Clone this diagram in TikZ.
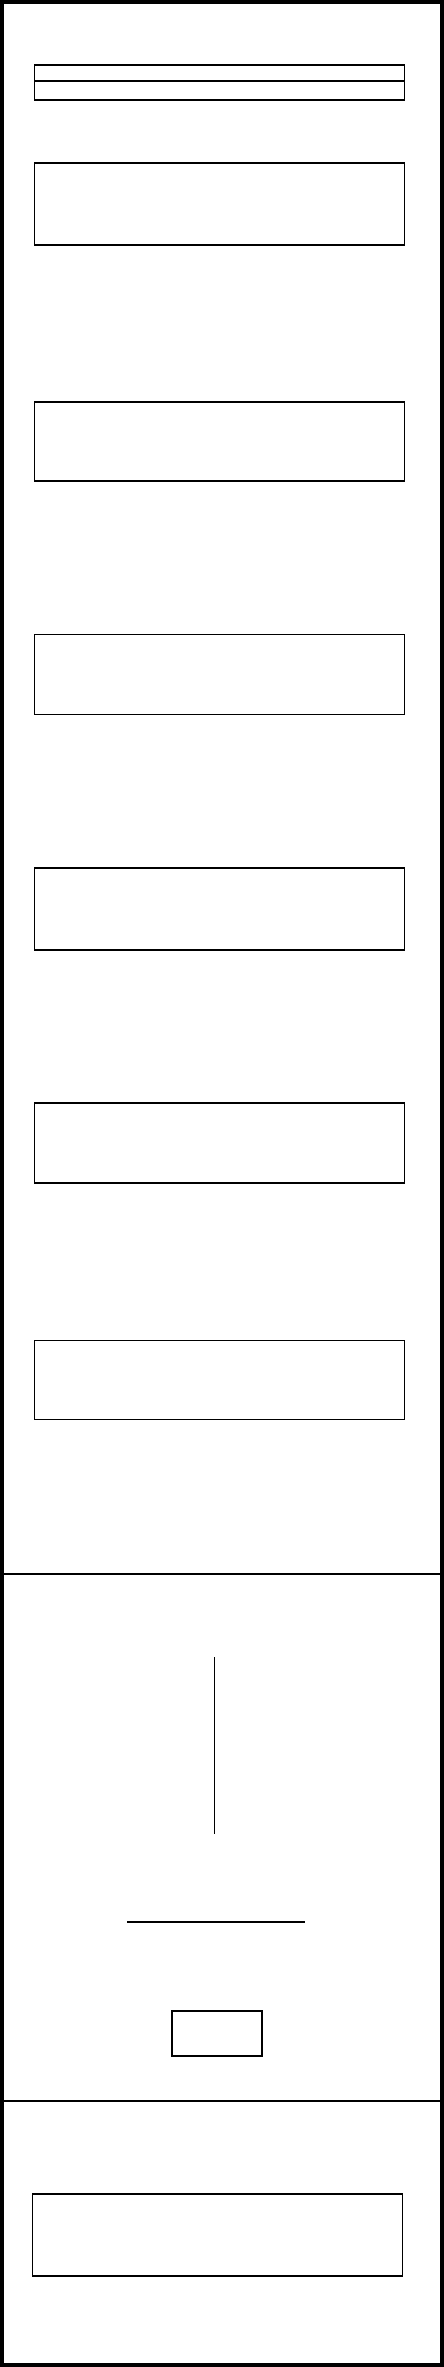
\documentclass[tikz,border=0pt]{standalone}
\begin{document}
\begin{tikzpicture}[x=1pt,y=-1pt,
  box/.style={draw=black,line width=1.3pt,minimum width=370pt,inner sep=0pt,outer sep=0pt},
  frame/.style={draw=black,line width=4pt},
  divider/.style={draw=black,line width=1.5pt},
  stroke/.style={draw=black,line width=1.3pt}]
\useasboundingbox (0,0) rectangle (444,2367);
\fill[white] (0,0) rectangle (444,2367);
\draw[frame] (2,2) rectangle (442,2365);
% header
\node[box,minimum height=16pt] (h1) at (219.5,73) {};
\node[box,minimum height=19pt] (h2) at (219.5,90.5) {};
% stacked boxes
\node[box,minimum height=82pt] (b1) at (219.5,204) {};
\node[box,minimum height=79pt] (b2) at (219.5,441.5) {};
\node[box,minimum height=80pt] (b3) at (219.5,674.5) {};
\node[box,minimum height=82pt] (b4) at (219.5,909) {};
\node[box,minimum height=80pt] (b5) at (219.5,1143) {};
\node[box,minimum height=79pt] (b6) at (219.5,1380) {};
% dividers
\coordinate (d1l) at (4,1574);
\coordinate (d1r) at (440,1574);
\coordinate (d2l) at (4,2101);
\coordinate (d2r) at (440,2101);
\draw[divider] (d1l) -- (d1r);
\draw[divider] (d2l) -- (d2r);
% lower section
\coordinate (vt) at (214.7,1657);
\coordinate (vb) at (214.7,1834);
\draw[stroke] (vt) -- (vb);
\coordinate (hl) at (127,1922);
\coordinate (hr) at (305,1922);
\draw[stroke] (hl) -- (hr);
\node[box,minimum width=90pt,minimum height=45pt] (sq) at (217,2033.5) {};
% bottom box
\node[box,minimum height=82pt] (bb) at (217.5,2235) {};
\end{tikzpicture}
\end{document}
